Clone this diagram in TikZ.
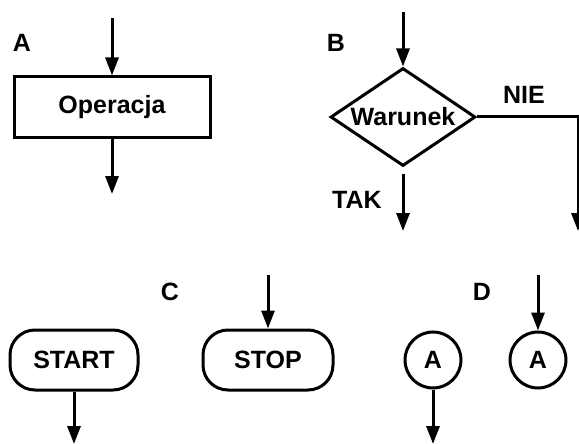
\documentclass[tikz,border=0pt]{standalone}
\usepackage{fontspec}
\setmainfont{Liberation Sans}
\usetikzlibrary{arrows.meta,shapes.geometric}
\tikzset{
  txt/.style={font=\fontsize{25}{29}\selectfont\bfseries, inner sep=0pt},
  blk/.style={txt, draw, line width=3pt},
  arr/.style={line width=3pt, -{Triangle[length=18pt,width=13pt]}}
}
\begin{document}
\begin{tikzpicture}[x=1pt,y=-1pt]
        \useasboundingbox (0,0) rectangle (579,444);
        \node [txt] (LA) at (22,43) {A};
        \node [txt] (LB) at (336,43) {B};
        \node [txt] (LC) at (170,292) {C};
        \node [txt] (LD) at (482,292) {D};
        \node [blk, minimum width=196pt, minimum height=60pt] (op) at (112,107) {Operacja};
        \node [blk, diamond, aspect=1.48, minimum width=145pt, minimum height=98pt] (war) at (403,117) {Warunek};
        \node [blk, rounded corners=25pt, minimum width=128pt, minimum height=60pt] (start) at (74,360) {START};
        \node [blk, rounded corners=25pt, minimum width=130pt, minimum height=60pt] (stop) at (268,360) {STOP};
        \node [blk, circle, minimum size=56pt] (conA) at (433,360) {A};
        \node [blk, circle, minimum size=56pt] (conB) at (538,360) {A};
        \node [txt] (nie) at (524,95) {NIE};
        \node [txt] (tak) at (357,200) {TAK};
        \coordinate (opIn) at (112,18);
        \coordinate (opOut) at (112,194);
        \coordinate (warIn) at (403,12);
        \coordinate (takOut) at (403,231);
        \coordinate (nieOut) at (578,231);
        \coordinate (startOut) at (74,444);
        \coordinate (stopIn) at (268,275);
        \coordinate (conAOut) at (433,444);
        \coordinate (conBIn) at (538,275);
        \draw [arr] (opIn) -- (op.north);
        \draw [arr] (op.south) -- (opOut);
        \draw [arr] (warIn) -- (war.north);
        \draw [arr, shorten <=6pt] (war.south) -- (takOut);
        \draw [arr] (war.east) -| (nieOut);
        \draw [arr] (start.south) -- (startOut);
        \draw [arr] (stopIn) -- (stop.north);
        \draw [arr] (conA.south) -- (conAOut);
        \draw [arr] (conBIn) -- (conB.north);
      \end{tikzpicture}
\end{document}
